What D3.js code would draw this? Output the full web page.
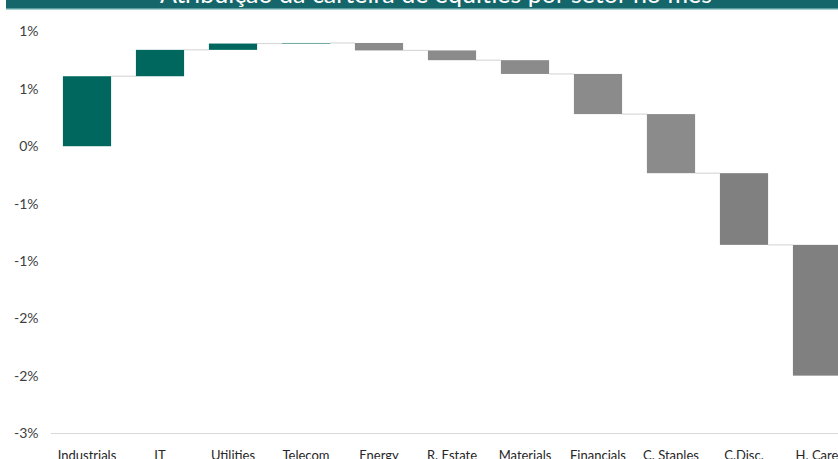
<!DOCTYPE html>
<html>
<head>
<meta charset="utf-8">
<script src="https://cdn.jsdelivr.net/npm/d3@7"></script>
<style>
  body { margin: 0; background: #fff; }
  svg { display: block; font-family: Lato, "Open Sans", sans-serif; }
</style>
</head>
<body>
<div id="chart"></div>
<script>
// sector contributions (% points)
const sectors = ['Industrials', 'IT', 'Utilities', 'Telecom', 'Energy', 'R. Estate',
                 'Materials', 'Financials', 'C. Staples', 'C.Disc.', 'H. Care'];
const contrib = [0.61, 0.23, 0.055, 0.005, -0.065, -0.085, -0.12, -0.35, -0.515, -0.625, -1.14];
const yTicks = [1, 0.5, 0, -0.5, -1, -1.5, -2, -2.5];
const title = 'Atribuição da carteira de equities por setor no mês';

const svgWidth = 838, svgHeight = 459;
const margin = {top: 31.5, left: 50.5, bottom: 26};

// build waterfall steps
let run = 0;
const steps = contrib.map((v, i) => {
    const start = run;
    run += v;
    return {name: sectors[i], start: start, end: run, value: v};
});

const svg = d3.select('#chart')
              .append('svg')
              .attr('width', svgWidth)
              .attr('height', svgHeight);

// title band (cut off at the top)
svg.append('rect')
   .attr('x', 6).attr('y', 0)
   .attr('width', svgWidth - 6).attr('height', 10)
   .attr('fill', '#a7d3d3');
svg.append('rect')
   .attr('x', 6).attr('y', 0)
   .attr('width', svgWidth - 6).attr('height', 8.5)
   .attr('fill', '#15666a');
svg.append('text')
   .attr('x', 436).attr('y', 3)
   .attr('text-anchor', 'middle')
   .attr('fill', '#fff')
   .attr('font-size', 25)
   .text(title);

const x = d3.scaleBand()
            .domain(sectors)
            .range([margin.left, margin.left + 73 * sectors.length])
            .paddingInner(0.34)
            .paddingOuter(0.17);

const y = d3.scaleLinear()
            .domain([-2.5, 1])
            .range([svgHeight - margin.bottom, margin.top]);

// y axis labels (Excel style "0%" rounding)
const fmt = v => {
    const r = Math.sign(v) * Math.round(Math.abs(v));
    return (r === 0 ? 0 : r) + '%';
};
const yAxis = svg.append('g')
   .attr('transform', `translate(${margin.left},0)`)
   .call(d3.axisLeft(y).tickValues(yTicks).tickFormat(fmt).tickSize(0).tickPadding(12));
yAxis.select('.domain').remove();
yAxis.selectAll('text')
     .attr('font-size', 14)
     .attr('fill', '#404040')
     .attr('font-family', 'Lato, sans-serif');

// category axis at the bottom
const xAxis = svg.append('g')
   .attr('transform', `translate(0,${y(-2.5)})`)
   .call(d3.axisBottom(x).tickSize(0).tickPadding(18));
xAxis.select('.domain').attr('stroke', '#d9d9d9').attr('stroke-width', 1.2);
xAxis.selectAll('text')
     .attr('font-size', 13)
     .attr('fill', '#262626')
     .attr('font-family', 'Lato, sans-serif');

// connectors
svg.append('g')
   .selectAll('line')
   .data(steps.slice(0, -1))
   .join('line')
   .attr('x1', d => x(d.name) + x.bandwidth())
   .attr('x2', (d, i) => x(sectors[i + 1]))
   .attr('y1', d => y(d.end))
   .attr('y2', d => y(d.end))
   .attr('stroke', '#d9d9d9')
   .attr('stroke-width', 1.2);

// bars
svg.append('g')
   .selectAll('rect')
   .data(steps)
   .join('rect')
   .attr('x', d => x(d.name))
   .attr('width', x.bandwidth())
   .attr('y', d => y(Math.max(d.start, d.end)))
   .attr('height', d => Math.abs(y(d.start) - y(d.end)))
   .attr('fill', d => d.value >= 0 ? '#00675f' : (d.value < -0.6 ? '#808080' : '#8b8b8b'));
</script>
</body>
</html>
